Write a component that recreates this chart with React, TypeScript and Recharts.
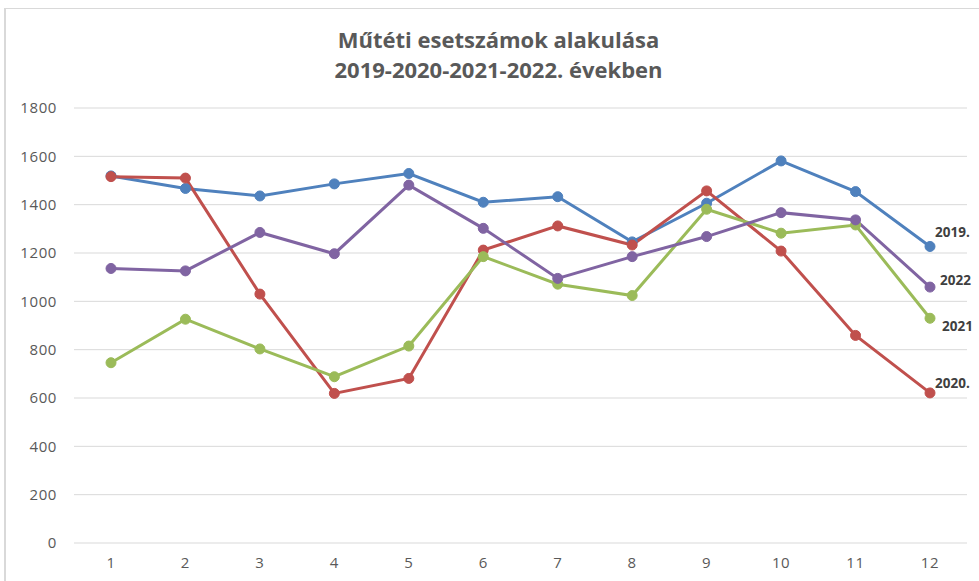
import { LineChart, Line, XAxis, YAxis, CartesianGrid, LabelList } from 'recharts';

const months = ['1', '2', '3', '4', '5', '6', '7', '8', '9', '10', '11', '12'];
const y2019 = [1519, 1467, 1436, 1486, 1529, 1410, 1433, 1246, 1406, 1581, 1454, 1227];
const y2020 = [1516, 1510, 1030, 619, 681, 1212, 1312, 1233, 1457, 1208, 859, 621];
const y2021 = [746, 926, 803, 688, 815, 1185, 1071, 1024, 1381, 1282, 1316, 930];
const y2022 = [1136, 1126, 1285, 1197, 1481, 1302, 1095, 1185, 1268, 1367, 1337, 1059];
const yTicks = [0, 200, 400, 600, 800, 1000, 1200, 1400, 1600, 1800];

const data = months.map((m, i) => ({
  month: m,
  y2019: y2019[i],
  y2020: y2020[i],
  y2021: y2021[i],
  y2022: y2022[i],
}));

const FONT = '"Open Sans", Lato, sans-serif';
const TICK = { fill: '#595959', fontSize: 15, fontFamily: FONT, letterSpacing: 0.6 };

// end-of-line label, only on the last point
function endLabel(text: string, dx: number, dy: number) {
  return (props: any) => {
    const { x, y, index } = props;
    if (index !== months.length - 1) return null;
    return (
      <text
        x={x + dx}
        y={y + dy}
        fill="#404040"
        fontSize={13.5}
        fontWeight={700}
        fontFamily={FONT}
        dominantBaseline="central"
      >
        {text}
      </text>
    );
  };
}

const series = [
  { key: 'y2019', color: '#4f81bd', label: '2019.', dx: 5, dy: -14 },
  { key: 'y2020', color: '#c0504d', label: '2020.', dx: 5, dy: -10 },
  { key: 'y2021', color: '#9bbb59', label: '2021', dx: 12, dy: 8 },
  { key: 'y2022', color: '#8064a2', label: '2022', dx: 10, dy: -7 },
];

export default function App() {
  return (
    <div style={{ position: 'absolute', left: 0, top: 0, width: 979, height: 581, background: '#fff', overflow: 'hidden' }}>
      <div
        style={{
          position: 'absolute',
          left: 4,
          top: 8,
          width: 1000,
          height: 600,
          borderLeft: '2px solid #d9d9d9',
          borderTop: '1px solid #d9d9d9',
        }}
      />
      <div
        style={{
          position: 'absolute',
          left: 0,
          top: 24,
          width: 997,
          textAlign: 'center',
          fontFamily: FONT,
          fontWeight: 700,
          fontSize: 22,
          lineHeight: '30px',
          color: '#595959',
        }}
      >
        Műtéti esetszámok alakulása
        <br />
        2019-2020-2021-2022. években
      </div>
      <div style={{ position: 'absolute', left: 0, top: 0 }}>
        <LineChart width={979} height={581} data={data} margin={{ top: 108, right: 12, left: 14, bottom: 8 }}>
          <CartesianGrid vertical={false} stroke="#d9d9d9" strokeWidth={1} />
          <XAxis
            dataKey="month"
            axisLine={false}
            tickLine={false}
            padding={{ left: 37, right: 37 }}
            tick={TICK}
            height={30}
            tickSize={0}
            tickMargin={14}
          />
          <YAxis
            domain={[0, 1800]}
            ticks={yTicks}
            axisLine={false}
            tickLine={false}
            width={60}
            tickSize={0}
            tickMargin={17}
            tick={TICK}
          />
          {series.map((s) => (
            <Line
              key={s.key}
              dataKey={s.key}
              stroke={s.color}
              strokeWidth={3}
              dot={{ r: 5, fill: s.color, stroke: s.color, strokeWidth: 1 }}
              isAnimationActive={false}
            >
              <LabelList dataKey={s.key} content={endLabel(s.label, s.dx, s.dy)} />
            </Line>
          ))}
        </LineChart>
      </div>
    </div>
  );
}
